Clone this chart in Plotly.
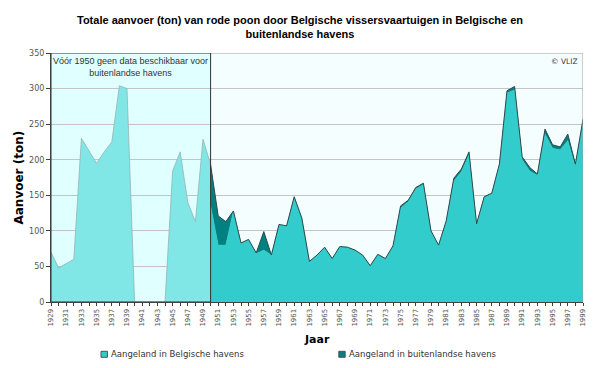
import plotly.graph_objects as go

# ---- data ----
years_pre = list(range(1929, 1951))
total_pre = [70, 48, 54, 60, 230, 212, 195, 211, 225, 304, 300, 0, 0, 0, 0, 0,
             184, 211, 140, 113, 229, 193]

years_post = list(range(1950, 2000))
belgian = [136, 80, 80, 128, 82, 87, 68, 73, 66, 109,
           107, 147, 118, 57, 66, 77, 61, 78, 77, 73,
           66, 51, 67, 61, 78, 132, 141, 159, 165, 99,
           80, 113, 170, 183, 207, 109, 147, 152, 193, 294,
           298, 200, 184, 178, 236, 216, 214, 227, 190, 251]
foreign = [57, 41, 33, 0, 1, 1, 1, 26, 0, 0,
           0, 1, 0, 0, 0, 0, 0, 0, 0, 0,
           0, 0, 0, 0, 1, 3, 2, 2, 2, 1,
           0, 1, 4, 4, 4, 1, 1, 1, 1, 3,
           5, 4, 5, 2, 7, 5, 4, 9, 4, 6]

name_be = "Aangeland in Belgische havens"
name_fo = "Aangeland in buitenlandse havens"
title_text = ("Totale aanvoer (ton) van rode poon door Belgische vissersvaartuigen in Belgische en"
              "<br>buitenlandse havens")
note_text = "Vóór 1950 geen data beschikbaar voor<br>buitenlandse havens"

FONT = "'Liberation Sans', Arial, sans-serif"
FONT2 = "'DejaVu Sans', Verdana, sans-serif"

fig = go.Figure()

fig.add_trace(go.Scatter(
    x=years_pre, y=total_pre, mode="lines", fill="tozeroy",
    fillcolor="#80E6E6", line=dict(color="#96B4B4", width=0.8),
    showlegend=False, hoverinfo="x+y", name="Totaal vóór 1950"))

fig.add_trace(go.Scatter(
    x=years_post, y=belgian, mode="lines", fill="tozeroy", stackgroup="post",
    fillcolor="#33CCCC", line=dict(color="#33CCCC", width=0.5),
    showlegend=False, name=name_be))

fig.add_trace(go.Scatter(
    x=years_post, y=foreign, mode="lines", stackgroup="post",
    fillcolor="#008080", line=dict(color="#2E4A4A", width=1),
    showlegend=False, name=name_fo))

shapes = [
    dict(type="rect", xref="x", yref="y", x0=1929, x1=1950, y0=0, y1=350,
         fillcolor="#E0FFFF", line=dict(width=0), layer="below"),
    dict(type="rect", xref="x", yref="y", x0=1950, x1=1999, y0=0, y1=350,
         fillcolor="#F5FEFE", line=dict(width=0), layer="below"),
    dict(type="line", xref="x", yref="y", x0=1950, x1=1999, y0=350, y1=350,
         line=dict(color="#A0A0A0", width=1), layer="above"),
    dict(type="line", xref="x", yref="y", x0=1999, x1=1999, y0=0, y1=350,
         line=dict(color="#A0A0A0", width=1), layer="above"),
    dict(type="rect", xref="x", yref="y", x0=1929, x1=1950, y0=0, y1=350,
         fillcolor="rgba(0,0,0,0)", line=dict(color="#303030", width=1), layer="above"),
    # legend squares
    dict(type="rect", xref="paper", yref="paper", x0=0.094, x1=0.106, y0=-0.222, y1=-0.198,
         fillcolor="#33CCCC", line=dict(color="#505050", width=1)),
    dict(type="rect", xref="paper", yref="paper", x0=0.541, x1=0.553, y0=-0.222, y1=-0.198,
         fillcolor="#008080", line=dict(color="#505050", width=1)),
]

annotations = [
    dict(text="<b>" + title_text + "</b>", xref="paper", yref="paper",
         x=0.468, y=1.104, xanchor="center", yanchor="middle", showarrow=False,
         font=dict(family=FONT, size=11, color="#000000")),
    dict(text=note_text, xref="x", yref="paper", x=1939.5, y=0.995,
         xanchor="center", yanchor="top",
         showarrow=False, font=dict(family=FONT, size=9, color="#333333")),
    dict(text="© VLIZ", xref="paper", yref="paper", x=0.995, y=0.99, xanchor="right",
         yanchor="top", showarrow=False, font=dict(family=FONT2, size=7.5, color="#333333")),
    dict(text="<b>Jaar</b>", xref="paper", yref="paper", x=0.5, y=-0.149,
         xanchor="center", yanchor="middle",
         showarrow=False, font=dict(family=FONT2, size=11, color="#000000")),
    dict(text="<b>Aanvoer (ton)</b>", xref="paper", yref="paper", x=-0.062, y=0.5,
         xanchor="center", yanchor="middle",
         textangle=-90, showarrow=False, font=dict(family=FONT2, size=12, color="#000000")),
    dict(text=name_be, xref="paper", yref="paper", x=0.109, y=-0.21,
         xanchor="left", yanchor="middle",
         showarrow=False, font=dict(family=FONT2, size=8.5, color="#333333")),
    dict(text=name_fo, xref="paper", yref="paper", x=0.556, y=-0.21,
         xanchor="left", yanchor="middle",
         showarrow=False, font=dict(family=FONT2, size=8.5, color="#333333")),
]

fig.update_layout(
    width=600, height=368,
    margin=dict(l=51, r=17, t=53, b=66),
    paper_bgcolor="white", plot_bgcolor="#F5FEFE",
    showlegend=False,
    shapes=shapes, annotations=annotations,
    font=dict(family=FONT2),
)

fig.update_xaxes(
    range=[1929, 1999], tickmode="linear", tick0=1929, dtick=2,
    tickangle=-90, ticks="outside", ticklen=3, tickcolor="#404040",
    tickfont=dict(family=FONT2, size=7, color="#555555"),
    minor=dict(tickmode="linear", tick0=1929, dtick=1, ticks="outside", ticklen=3,
               tickcolor="#404040", showgrid=False),
    showgrid=False, showline=True, linecolor="#404040", linewidth=1, zeroline=False,
)
fig.update_yaxes(
    range=[0, 350], tickmode="linear", tick0=0, dtick=50,
    ticks="outside", ticklen=4, tickcolor="#404040",
    tickfont=dict(family=FONT2, size=8, color="#555555"),
    showgrid=True, gridcolor="#C4C4C4", gridwidth=1,
    showline=True, linecolor="#404040", linewidth=1, zeroline=False,
)

fig.write_html("out.html", config={"displayModeBar": False},
               post_script="document.body.style.margin='0px';document.body.style.overflow='hidden';")
